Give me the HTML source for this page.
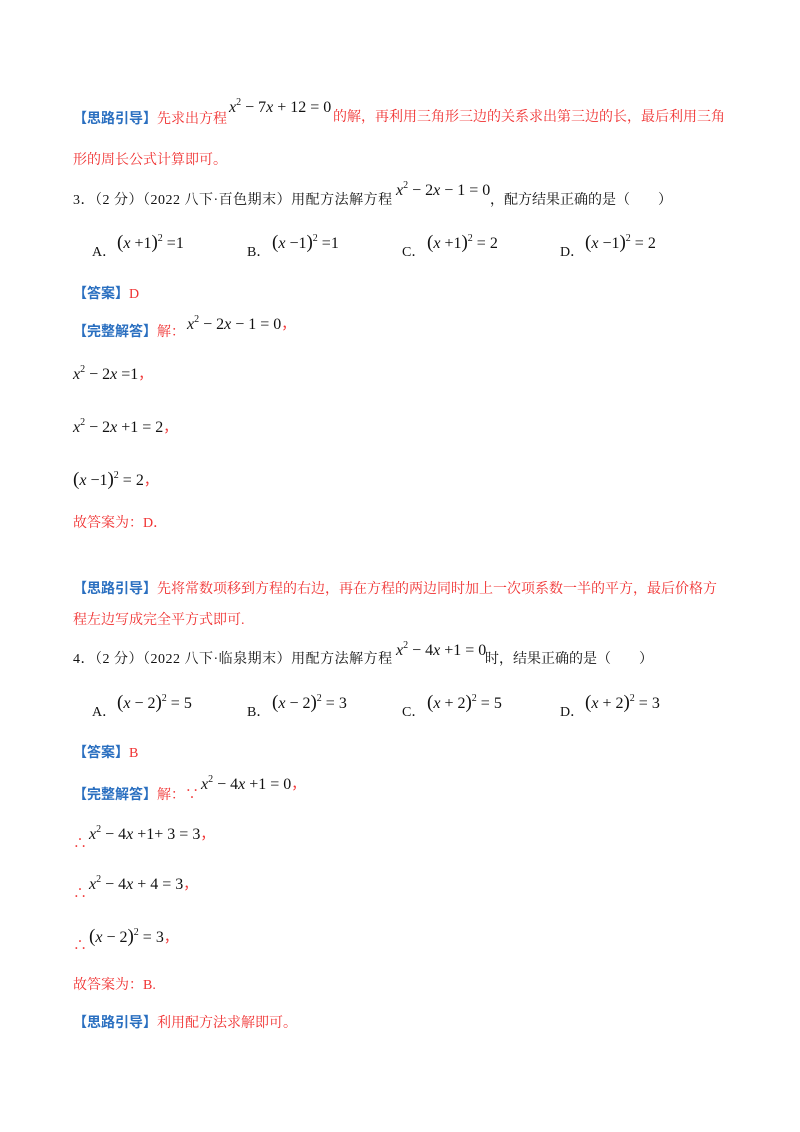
<!DOCTYPE html>
<html><head><meta charset="utf-8"><style>
body{margin:0;width:800px;height:1132px;background:#fff;position:relative;font-family:"Liberation Serif","Noto Serif CJK SC","Noto Sans CJK SC",serif;font-size:14px;color:#111;}
.a{position:absolute;white-space:nowrap;line-height:18px;}
.b{color:#2a6fc0;font-weight:bold;font-family:"Liberation Sans","Noto Sans CJK SC",sans-serif;}
.r{color:#f03030;}
.m{position:absolute;white-space:nowrap;font-family:"Liberation Serif",serif;font-size:16px;line-height:18px;color:#111;}
.m i{font-style:italic;}
sup{font-size:10px;vertical-align:7px;line-height:0;}
.p{font-size:19px;}
</style></head><body>
<div class="a" style="left:73px;top:109px"><span class="b">【思路引导】</span><span class="r">先求出方程</span></div>
<div class="m" style="left:229px;top:99px"><i>x</i><sup>2</sup> − 7<i>x</i> + 12 = 0</div>
<div class="a r" style="left:333px;top:109px">的解，再利用三角形三边的关系求出第三边的长，最后利用三角</div>
<div class="a r" style="left:73px;top:152px">形的周长公式计算即可。</div>

<div class="a" style="left:73px;top:192px;letter-spacing:0.5px">3．（2 分）（2022 八下·百色期末）用配方法解方程</div>
<div class="m" style="left:396px;top:182px"><i>x</i><sup>2</sup> − 2<i>x</i> − 1 = 0</div>
<div class="a" style="left:490px;top:192px">，配方结果正确的是（　　）</div>

<div class="a" style="left:92px;top:244px">A．</div><div class="m" style="left:117px;top:234px"><span class="p">(</span><i>x</i> +1<span class="p">)</span><sup>2</sup> =1</div>
<div class="a" style="left:247px;top:244px">B．</div><div class="m" style="left:272px;top:234px"><span class="p">(</span><i>x</i> −1<span class="p">)</span><sup>2</sup> =1</div>
<div class="a" style="left:402px;top:244px">C．</div><div class="m" style="left:427px;top:234px"><span class="p">(</span><i>x</i> +1<span class="p">)</span><sup>2</sup> = 2</div>
<div class="a" style="left:560px;top:244px">D．</div><div class="m" style="left:585px;top:234px"><span class="p">(</span><i>x</i> −1<span class="p">)</span><sup>2</sup> = 2</div>

<div class="a" style="left:73px;top:284px"><span class="b">【答案】</span><span class="r">D</span></div>
<div class="a" style="left:73px;top:322px"><span class="b">【完整解答】</span><span class="r">解：</span></div>
<div class="m" style="left:187px;top:316px"><i>x</i><sup>2</sup> − 2<i>x</i> − 1 = 0<span class="r" style="font-size:14px">，</span></div>
<div class="m" style="left:73px;top:366px"><i>x</i><sup>2</sup> − 2<i>x</i> =1<span class="r" style="font-size:14px">，</span></div>
<div class="m" style="left:73px;top:419px"><i>x</i><sup>2</sup> − 2<i>x</i> +1 = 2<span class="r" style="font-size:14px">，</span></div>
<div class="m" style="left:73px;top:471px"><span class="p">(</span><i>x</i> −1<span class="p">)</span><sup>2</sup> = 2<span class="r" style="font-size:14px">，</span></div>
<div class="a r" style="left:73px;top:515px">故答案为：D．</div>

<div class="a" style="left:73px;top:579px"><span class="b">【思路引导】</span><span class="r">先将常数项移到方程的右边，再在方程的两边同时加上一次项系数一半的平方，最后价格方</span></div>
<div class="a r" style="left:73px;top:612px">程左边写成完全平方式即可.</div>

<div class="a" style="left:73px;top:651px;letter-spacing:0.5px">4．（2 分）（2022 八下·临泉期末）用配方法解方程</div>
<div class="m" style="left:396px;top:642px"><i>x</i><sup>2</sup> − 4<i>x</i> +1 = 0</div>
<div class="a" style="left:485px;top:651px">时，结果正确的是（　　）</div>

<div class="a" style="left:92px;top:704px">A．</div><div class="m" style="left:117px;top:694px"><span class="p">(</span><i>x</i> − 2<span class="p">)</span><sup>2</sup> = 5</div>
<div class="a" style="left:247px;top:704px">B．</div><div class="m" style="left:272px;top:694px"><span class="p">(</span><i>x</i> − 2<span class="p">)</span><sup>2</sup> = 3</div>
<div class="a" style="left:402px;top:704px">C．</div><div class="m" style="left:427px;top:694px"><span class="p">(</span><i>x</i> + 2<span class="p">)</span><sup>2</sup> = 5</div>
<div class="a" style="left:560px;top:704px">D．</div><div class="m" style="left:585px;top:694px"><span class="p">(</span><i>x</i> + 2<span class="p">)</span><sup>2</sup> = 3</div>

<div class="a" style="left:73px;top:743px"><span class="b">【答案】</span><span class="r">B</span></div>
<div class="a" style="left:73px;top:785px"><span class="b">【完整解答】</span><span class="r">解：∵</span></div>
<div class="m" style="left:201px;top:776px"><i>x</i><sup>2</sup> − 4<i>x</i> +1 = 0<span class="r" style="font-size:14px">，</span></div>
<div class="a r" style="left:73px;top:836px">∴</div><div class="m" style="left:89px;top:826px"><i>x</i><sup>2</sup> − 4<i>x</i> +1+ 3 = 3<span class="r" style="font-size:14px">，</span></div>
<div class="a r" style="left:73px;top:886px">∴</div><div class="m" style="left:89px;top:876px"><i>x</i><sup>2</sup> − 4<i>x</i> + 4 = 3<span class="r" style="font-size:14px">，</span></div>
<div class="a r" style="left:73px;top:938px">∴</div><div class="m" style="left:89px;top:928px"><span class="p">(</span><i>x</i> − 2<span class="p">)</span><sup>2</sup> = 3<span class="r" style="font-size:14px">，</span></div>
<div class="a r" style="left:73px;top:977px">故答案为：B.</div>
<div class="a" style="left:73px;top:1013px"><span class="b">【思路引导】</span><span class="r">利用配方法求解即可。</span></div>
</body></html>
